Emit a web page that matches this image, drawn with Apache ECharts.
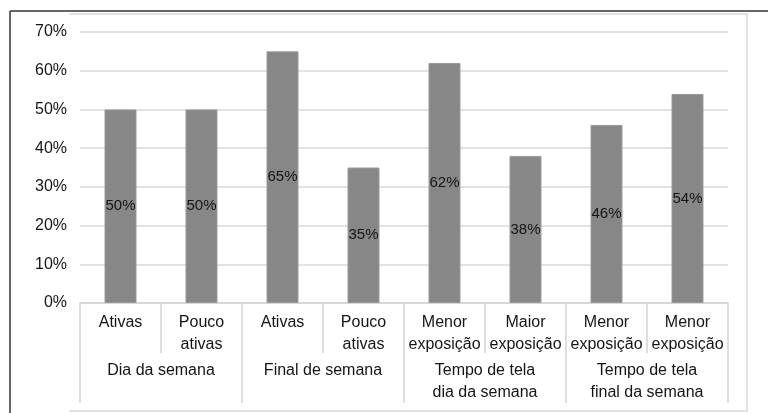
<!DOCTYPE html>
<html>
<head>
<meta charset="utf-8">
<script src="https://cdn.jsdelivr.net/npm/echarts@6/dist/echarts.min.js"></script>
<style>html,body{margin:0;padding:0;background:#fff}#c{width:768px;height:413px}</style>
</head>
<body>
<div id="c"></div>
<script>
const categories = ['Ativas', 'Pouco\nativas', 'Ativas', 'Pouco\nativas', 'Menor\nexposição', 'Maior\nexposição', 'Menor\nexposição', 'Menor\nexposição'];
const groups = ['Dia da semana', 'Final de semana', 'Tempo de tela\ndia da semana', 'Tempo de tela\nfinal da semana'];
const values = [50, 50, 65, 35, 62, 38, 46, 54];
const yTicks = [0, 10, 20, 30, 40, 50, 60, 70];

const FONT = "'Liberation Sans', Arial, sans-serif";
const chart = echarts.init(document.getElementById('c'), null, {renderer: 'canvas'});
chart.setOption({
  animation: false,
  backgroundColor: '#fff',
  textStyle: {fontFamily: FONT},
  grid: {left: 80, right: 40, top: 32, bottom: 110, containLabel: false},
  graphic: [
    {type: 'line', shape: {x1: 10, y1: 11, x2: 768, y2: 11}, style: {stroke: '#333', lineWidth: 1.5}, z: 10},
    {type: 'line', shape: {x1: 10, y1: 11, x2: 10, y2: 413}, style: {stroke: '#333', lineWidth: 1.5}, z: 10},
    {type: 'polyline', shape: {points: [[69, 14], [747, 14], [747, 411], [69, 411]]}, style: {stroke: '#e2e2e2', lineWidth: 2, fill: null}, z: 10}
  ],
  xAxis: [
    {
      type: 'category', data: categories, position: 'bottom',
      axisLine: {show: true, lineStyle: {color: '#d4d4d4', width: 1.5}},
      axisTick: {show: true, length: 50, interval: 0, lineStyle: {color: '#d4d4d4', width: 1.5}},
      axisLabel: {interval: 0, margin: 9, color: '#151515', fontSize: 16, lineHeight: 22, fontFamily: FONT, verticalAlign: 'top'}
    },
    {
      type: 'category', data: groups, position: 'bottom',
      axisLine: {show: false},
      axisTick: {show: true, length: 100, interval: 0, lineStyle: {color: '#d4d4d4', width: 1.5}},
      axisLabel: {interval: 0, margin: 57, color: '#151515', fontSize: 16, lineHeight: 22, fontFamily: FONT, verticalAlign: 'top'}
    }
  ],
  yAxis: {
    type: 'value', min: yTicks[0], max: yTicks[yTicks.length - 1], interval: 10,
    axisLine: {show: false}, axisTick: {show: false},
    splitLine: {lineStyle: {color: '#d9d9d9', width: 1.5}},
    axisLabel: {formatter: '{value}%', margin: 13, color: '#151515', fontSize: 16, fontFamily: FONT}
  },
  series: [{
    type: 'bar', xAxisIndex: 0, data: values, barWidth: '39.5%',
    itemStyle: {color: '#878787', borderColor: '#9a9a9a', borderWidth: 1},
    label: {show: true, position: 'inside', formatter: '{c}%', color: '#151515', fontSize: 15, fontFamily: FONT}
  }]
});
</script>
</body>
</html>
